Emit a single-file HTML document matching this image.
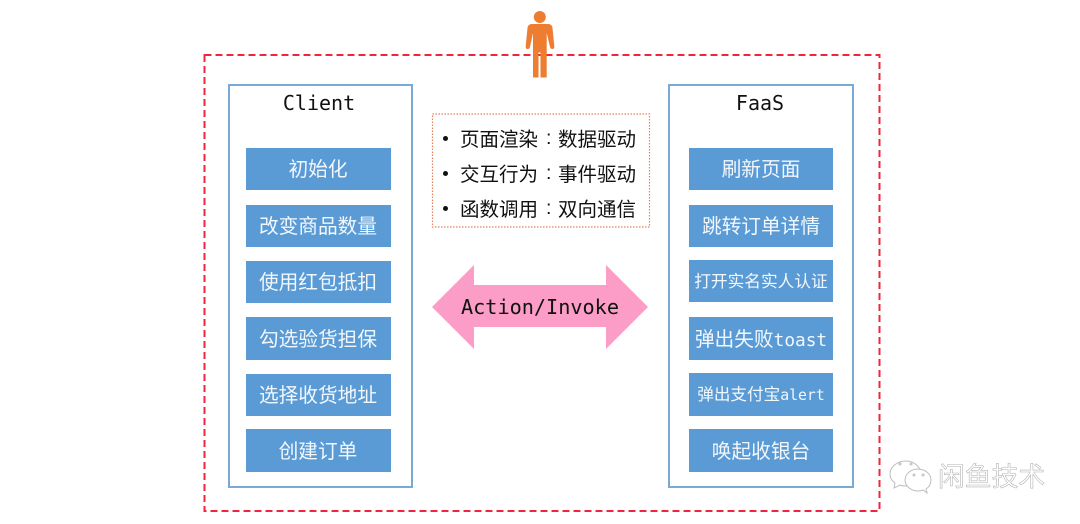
<!DOCTYPE html>
<html><head><meta charset="utf-8">
<style>
html,body{margin:0;padding:0;background:#fff}
body{width:1080px;height:524px;position:relative;overflow:hidden;font-family:"Liberation Sans","Noto Sans CJK SC",sans-serif}
.box{position:absolute;box-sizing:border-box;border:2px solid #7aa9d8;background:#fff}
.t{position:absolute;text-align:center;font-family:"DejaVu Sans Mono","Liberation Mono",monospace;font-size:20px;color:#111}
.b{position:absolute;background:#5b9bd5;color:#f2f7fc;text-align:center;white-space:nowrap;font-size:19.700px;font-family:"DejaVu Sans Mono","Noto Sans CJK SC",sans-serif;display:flex;align-items:center;justify-content:center;padding-bottom:3px;box-sizing:border-box}
.c{left:246px;width:144px}
.cb{position:absolute;left:246px;width:145px;background:#5b9bd5}
.f{left:689px;width:144px}
.l{position:absolute;left:0;top:0;font-size:19.500px;color:#111;white-space:nowrap;font-family:"Noto Sans CJK SC",sans-serif;line-height:26px}
.l span{position:absolute;top:0}
.d{position:absolute;left:443px;width:5px;height:5px;border-radius:50%;background:#111}
svg{position:absolute;left:0;top:0}
</style></head><body>
<svg width="1080" height="524" viewBox="0 0 1080 524">
<rect x="204.500" y="55" width="675" height="456" fill="none" stroke="#f0263c" stroke-width="2" stroke-dasharray="7 4"/>
<g fill="#ed7d31">
<circle cx="539.800" cy="17" r="6"/>
<path d="M532 24h16q4 0 4.500 4l1.800 18q.2 3-1.800 3t-2.500-2l-3.300-14V77.500h-6.200V52.500h-2V77.500H533V33l-3 14q-.5 2-2.500 2t-1.800-3l1.800-18q.5-4 4.500-4z"/>
</g>
<path d="M432 307 474 265V285H606V265L648 307 606 349V327H474V349Z" fill="#fb9dc6"/>
<rect x="432.500" y="114" width="217" height="113" fill="none" stroke="#e8805a" stroke-width="1.200" stroke-dasharray="1.500 1.500"/>
</svg>
<div class="box" style="left:228px;top:84px;width:185px;height:404px"></div>
<div class="box" style="left:668px;top:84px;width:186px;height:404px"></div>
<div class="t" style="left:228px;top:91px;width:182px">Client</div>
<div class="t" style="left:668px;top:91px;width:184px">FaaS</div>

<div class="cb" style="top:148px;height:42px"></div>
<div class="cb" style="top:205px;height:42px"></div>
<div class="cb" style="top:261px;height:42px"></div>
<div class="cb" style="top:317px;height:43px"></div>
<div class="cb" style="top:374px;height:42px"></div>
<div class="cb" style="top:429px;height:43px"></div>
<div class="b c" style="top:148px;height:42px">初始化</div>
<div class="b c" style="top:205px;height:42px">改变商品数量</div>
<div class="b c" style="top:261px;height:42px">使用红包抵扣</div>
<div class="b c" style="top:317px;height:43px">勾选验货担保</div>
<div class="b c" style="top:374px;height:42px">选择收货地址</div>
<div class="b c" style="top:429px;height:43px">创建订单</div>

<div class="b f" style="top:148px;height:42px">刷新页面</div>
<div class="b f" style="top:205px;height:42px">跳转订单详情</div>
<div class="b f" style="top:260px;height:42px;font-size:16.700px">打开实名实人认证</div>
<div class="b f" style="top:317px;height:43px;font-size:19.700px"><span>弹出失败<span style="font-size:17.800px">toast</span></span></div>
<div class="b f" style="top:373px;height:43px;font-size:16.600px"><span>弹出支付宝<span style="font-size:14.800px">alert</span></span></div>
<div class="b f" style="top:429px;height:43px">唤起收银台</div>

<div class="d" style="top:136px"></div>
<div class="d" style="top:171px"></div>
<div class="d" style="top:206px"></div>
<div class="l" style="top:125px"><span style="left:460px">页面渲染</span><span style="left:546px;font-family:'Liberation Sans',sans-serif">:</span><span style="left:558px">数据驱动</span></div>
<div class="l" style="top:160px"><span style="left:460px">交互行为</span><span style="left:546px;font-family:'Liberation Sans',sans-serif">:</span><span style="left:558px">事件驱动</span></div>
<div class="l" style="top:195px"><span style="left:460px">函数调用</span><span style="left:546px;font-family:'Liberation Sans',sans-serif">:</span><span style="left:558px">双向通信</span></div>

<div class="t" style="left:432px;top:295px;width:216px;font-size:20.200px">Action/Invoke</div>

<svg width="1080" height="524" viewBox="0 0 1080 524" fill="#fff" stroke="#bdbdbd" stroke-width="1">
<path d="M906 461c-9 0-16 6-16 13 0 4 2 7 5 9l-1 5 6-3c2 1 4 1 6 1 9 0 15-6 15-12s-6-13-15-13z"/>
<path d="M918 469c-7 0-13 5-13 11s6 11 13 11c2 0 3 0 5-1l4 3-1-4c3-2 5-5 5-9 0-6-6-11-13-11z"/>
<circle cx="900" cy="464" r="1"/><circle cx="911" cy="464" r="1"/><circle cx="914" cy="475" r="1"/><circle cx="923" cy="475" r="1"/>
<text x="938" y="486" font-family="Noto Sans CJK SC,sans-serif" font-size="26.800" fill="#fff" stroke="#b5b5b5" stroke-width=".6">闲鱼技术</text>
</svg>
</body></html>
